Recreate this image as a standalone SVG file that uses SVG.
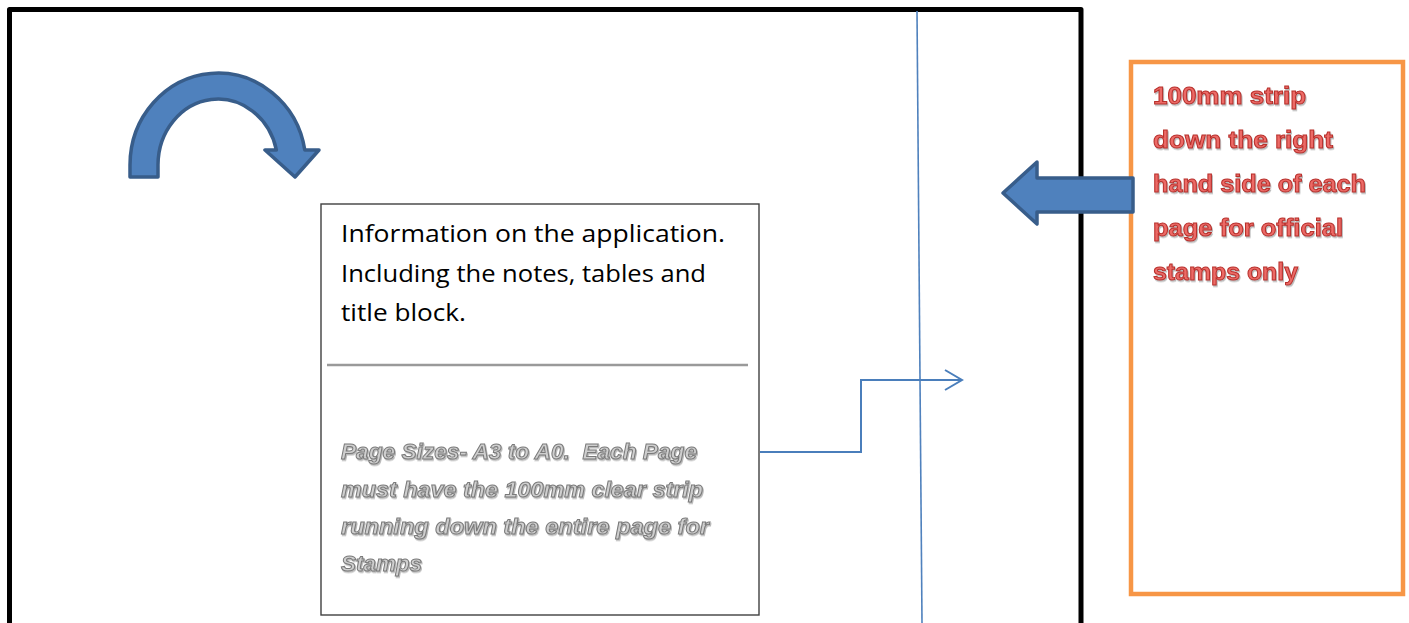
<svg xmlns="http://www.w3.org/2000/svg" width="1409" height="623" viewBox="0 0 1409 623">
<style>
.blk{fill:#000;font-family:"Open Sans","Liberation Sans",sans-serif;font-size:24px}
.gry{fill:#cfcfcf;stroke:#7a7a7a;stroke-width:1;font-family:"Liberation Sans","Open Sans",sans-serif;font-size:22px;font-weight:bold;font-style:italic;filter:url(#sh)}
.red{fill:#ec6a66;stroke:#b8302c;stroke-width:1;font-family:"Liberation Sans","Open Sans",sans-serif;font-size:24px;font-weight:bold;filter:url(#sh)}
.shape{fill:#4f81bd;stroke:#385d8a;stroke-width:3.5;stroke-linejoin:round}
.conn{fill:none;stroke:#4a7ebb;stroke-width:2}
</style>
<defs>
<filter id="sh" x="-10%" y="-30%" width="120%" height="160%">
<feDropShadow dx="1" dy="1.5" stdDeviation="0.7" flood-color="#707070" flood-opacity="0.5"/>
</filter>
<filter id="lsh" x="-5%" y="-300%" width="110%" height="700%">
<feGaussianBlur stdDeviation="1"/>
</filter>
<marker id="open" markerWidth="20" markerHeight="22" refX="18" refY="11" orient="auto" markerUnits="userSpaceOnUse" viewBox="0 0 20 22">
<path d="M1,1 L18,11 L1,21" fill="none" stroke="#4a7ebb" stroke-width="2"/>
</marker>
</defs>
<rect width="1409" height="623" fill="#fff"/>

<g id="page-frame">
<path d="M9.5,623 L9.5,9.5 L1081,9.5 L1081,623" fill="none" stroke="#000" stroke-width="5" stroke-linejoin="round"/>
</g>

<g id="strip-line">
<line x1="917" y1="11" x2="922" y2="623" stroke="#4f81bd" stroke-width="1.6"/>
</g>

<g id="curved-arrow">
<path class="shape" d="M130,177 L130,165 A88,92 0 0 1 304.8,150 L319,150 L295,177 L265,150 L276.4,150 A60,66 0 0 0 158,165 L158,177 Z"/>
</g>

<g id="info-box">
<rect x="321" y="204" width="438" height="411" fill="#fff" stroke="#404040" stroke-width="1.4"/>
<line x1="327" y1="366" x2="748" y2="366" stroke="#808080" stroke-width="3.5" filter="url(#lsh)"/>
<line x1="327" y1="365" x2="748" y2="365" stroke="#9a9a9a" stroke-width="2.5"/>
<text class="blk" x="341" y="242" textLength="384" lengthAdjust="spacingAndGlyphs">Information on the application.</text>
<text class="blk" x="341" y="282" textLength="365" lengthAdjust="spacingAndGlyphs">Including the notes, tables and</text>
<text class="blk" x="341" y="321" textLength="125" lengthAdjust="spacingAndGlyphs">title block.</text>
<text class="gry" x="341" y="459" textLength="356" lengthAdjust="spacingAndGlyphs" xml:space="preserve">Page Sizes- A3 to A0.  Each Page</text>
<text class="gry" x="341" y="497" textLength="362" lengthAdjust="spacingAndGlyphs">must have the 100mm clear strip</text>
<text class="gry" x="341" y="534" textLength="368" lengthAdjust="spacingAndGlyphs">running down the entire page for</text>
<text class="gry" x="341" y="571" textLength="81" lengthAdjust="spacingAndGlyphs">Stamps</text>
</g>

<g id="strip-box">
<rect x="1131" y="62" width="272" height="532" fill="#fff" stroke="#f79646" stroke-width="4.5"/>
<text class="red" x="1153" y="104" textLength="153" lengthAdjust="spacingAndGlyphs">100mm strip</text>
<text class="red" x="1153" y="148" textLength="180" lengthAdjust="spacingAndGlyphs">down the right</text>
<text class="red" x="1153" y="192" textLength="213" lengthAdjust="spacingAndGlyphs">hand side of each</text>
<text class="red" x="1153" y="236" textLength="190" lengthAdjust="spacingAndGlyphs">page for official</text>
<text class="red" x="1153" y="280" textLength="145" lengthAdjust="spacingAndGlyphs">stamps only</text>
</g>

<g id="left-arrow">
<path class="shape" d="M1133,178 L1037,178 L1037,162 L1003,193 L1037,224 L1037,212 L1133,212 Z"/>
</g>

<g id="connectors">
<path class="conn" d="M760,452 L861,452 L861,380 L962,380" marker-end="url(#open)"/>
</g>
</svg>
